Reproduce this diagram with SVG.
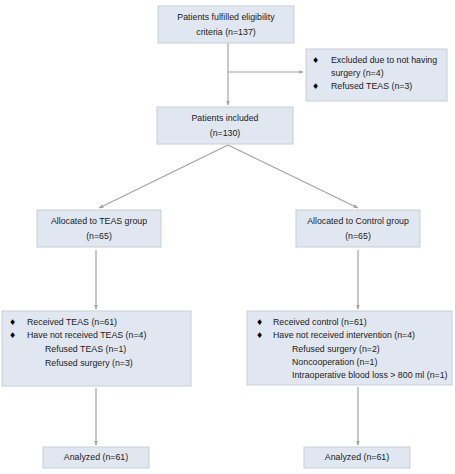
<svg xmlns="http://www.w3.org/2000/svg" width="455" height="474" viewBox="0 0 455 474">
<style>
.box{fill:#e1e7f1;stroke:#c9ced6;stroke-width:1}
.t{font-family:"Liberation Sans",Arial,sans-serif;font-size:8.8px;fill:#1a1a1a}
.c{text-anchor:middle}
.b{font-family:"DejaVu Sans","Liberation Sans",sans-serif;font-size:8px;fill:#000}
.ln{stroke:#a3a3a3;stroke-width:1.2;fill:none;marker-end:url(#ah)}
</style>
<defs>
<marker id="ah" viewBox="0 0 10 10" refX="9" refY="5" markerWidth="5" markerHeight="5" orient="auto" markerUnits="userSpaceOnUse">
<path d="M0,1 L10,5 L0,9 Z" fill="#a3a3a3"/>
</marker>
</defs>
<rect width="455" height="474" fill="#ffffff"/>
<g id="connectors">
<line class="ln" x1="228" y1="43" x2="228" y2="105"/>
<line class="ln" x1="228" y1="72" x2="303" y2="72"/>
<line class="ln" x1="228" y1="145" x2="99" y2="208"/>
<line class="ln" x1="228" y1="145" x2="358" y2="208"/>
<line class="ln" x1="96" y1="250" x2="96" y2="309"/>
<line class="ln" x1="358" y1="250" x2="358" y2="309"/>
<line class="ln" x1="96" y1="388" x2="96" y2="445"/>
<line class="ln" x1="358" y1="387" x2="358" y2="445"/>
</g>
<g id="n_eligible">
<rect class="box" x="158" y="6" width="136" height="37"/>
<text class="t c" x="226" y="20">Patients fulfilled eligibility</text>
<text class="t c" x="226" y="35">criteria (n=137)</text>
</g>
<g id="n_excluded">
<rect class="box" x="306" y="49" width="141" height="52"/>
<text class="b" x="312" y="63">♦</text>
<text class="t" x="331" y="63">Excluded due to not having</text>
<text class="t" x="331" y="76">surgery (n=4)</text>
<text class="b" x="312" y="89">♦</text>
<text class="t" x="331" y="89">Refused TEAS (n=3)</text>
</g>
<g id="n_included">
<rect class="box" x="157" y="107" width="136" height="37"/>
<text class="t c" x="225" y="121">Patients included</text>
<text class="t c" x="225" y="136">(n=130)</text>
</g>
<g id="n_teas">
<rect class="box" x="37" y="210" width="124" height="37"/>
<text class="t c" x="99" y="224">Allocated to TEAS group</text>
<text class="t c" x="99" y="239">(n=65)</text>
</g>
<g id="n_control">
<rect class="box" x="296" y="210" width="124" height="37"/>
<text class="t c" x="358" y="224">Allocated to Control group</text>
<text class="t c" x="358" y="239">(n=65)</text>
</g>
<g id="n_teas_out">
<rect class="box" x="2" y="311" width="189" height="75"/>
<text class="b" x="9" y="325">♦</text>
<text class="t" x="27" y="325">Received TEAS (n=61)</text>
<text class="b" x="9" y="338">♦</text>
<text class="t" x="27" y="338">Have not received TEAS (n=4)</text>
<text class="t" x="45" y="352">Refused TEAS (n=1)</text>
<text class="t" x="45" y="366">Refused surgery (n=3)</text>
</g>
<g id="n_control_out">
<rect class="box" x="247" y="311" width="205" height="74"/>
<text class="b" x="256" y="325">♦</text>
<text class="t" x="273" y="325">Received control (n=61)</text>
<text class="b" x="256" y="338">♦</text>
<text class="t" x="273" y="338">Have not received intervention (n=4)</text>
<text class="t" x="292" y="352">Refused surgery (n=2)</text>
<text class="t" x="292" y="365">Noncooperation (n=1)</text>
<text class="t" x="292" y="378">Intraoperative blood loss &gt; 800 ml (n=1)</text>
</g>
<g id="n_teas_an">
<rect class="box" x="43" y="447" width="106" height="21"/>
<text class="t c" x="96" y="460">Analyzed (n=61)</text>
</g>
<g id="n_control_an">
<rect class="box" x="304" y="447" width="106" height="21"/>
<text class="t c" x="357" y="460">Analyzed (n=61)</text>
</g>
</svg>
